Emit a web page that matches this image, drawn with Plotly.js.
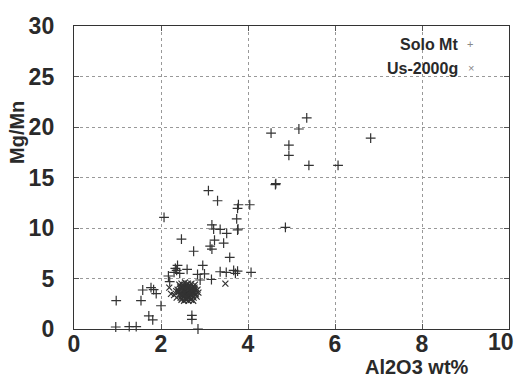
<!DOCTYPE html>
<html><head><meta charset="utf-8">
<script src="https://cdn.plot.ly/plotly-3.0.1.min.js"></script>
<style>html,body{margin:0;padding:0;background:#fff;}#chart{width:518px;height:379px;}</style>
</head><body><div id="chart"></div>
<script>
// Solo Mt (+)
const soloX = [5.35,5.17,4.53,4.94,4.94,6.82,5.40,6.07,4.63,4.64,3.09,3.30,3.78,4.04,3.76,3.74,4.86,2.07,3.17,3.21,3.36,3.76,3.77,3.51,2.47,3.23,3.44,3.13,3.17,2.75,3.58,2.96,2.38,2.33,2.60,2.30,2.43,2.36,3.00,2.84,3.36,3.50,3.67,3.71,3.76,4.07,2.90,3.16,2.17,2.20,1.58,1.77,1.83,1.89,0.97,1.54,2.00,1.72,1.81,0.96,1.27,1.43,2.71,2.71,2.85];
const soloY = [20.9,19.8,19.4,18.2,17.2,18.9,16.2,16.2,14.3,14.4,13.7,12.7,12.3,12.3,11.95,10.9,10.07,11.06,10.3,9.9,9.87,9.8,9.9,9.47,8.9,8.8,8.5,8.2,7.9,7.7,7.1,6.3,6.3,6.0,5.9,5.6,5.5,5.8,5.45,5.4,5.67,5.6,5.8,5.5,5.74,5.6,4.85,4.9,5.25,4.7,3.86,4.1,3.9,3.5,2.8,2.8,2.3,1.3,0.9,0.2,0.23,0.23,1.35,0.95,0.0];
// Us-2000g (x)
const usX = [3.48,2.23,2.36,2.19,2.42,2.47,2.51,2.55,2.58,2.62,2.66,2.70,2.74,2.78,2.44,2.49,2.53,2.57,2.61,2.65,2.69,2.73,2.77,2.81,2.40,2.46,2.50,2.54,2.59,2.63,2.67,2.71,2.76,2.80,2.84,2.43,2.48,2.52,2.56,2.60,2.64,2.68,2.72,2.79,2.38,2.45,2.51,2.55,2.62,2.66,2.70,2.75,2.82,2.47,2.53,2.58,2.63,2.69,2.74,2.52,2.57,2.61,2.67,2.72,2.41,2.35,2.30,2.86,2.50,2.64,2.59,2.68,2.55,2.62,2.71,2.44,2.77,2.49];
const usY = [4.5,3.47,3.1,4.1,4.4,4.5,4.3,4.6,4.4,4.5,4.3,4.5,4.2,4.4,4.0,4.1,3.9,4.2,4.0,4.1,3.9,4.0,4.1,3.8,3.7,3.6,3.8,3.7,3.6,3.8,3.7,3.6,3.7,3.5,3.9,3.4,3.3,3.5,3.4,3.3,3.5,3.4,3.3,3.4,3.9,3.1,3.2,3.0,3.1,3.2,3.0,3.1,3.2,2.9,2.8,2.9,2.8,2.9,2.8,3.95,3.85,4.25,3.75,3.55,3.65,3.75,3.35,3.6,4.15,3.55,3.15,4.05,3.25,3.9,3.3,4.2,3.9,3.45];
const xTicks = [0,2,4,6,8,10];
const yTicks = [0,5,10,15,20,25,30];

const FONT = "'Liberation Sans', Arial, sans-serif";
const TICKFONT = {family:FONT, size:23, color:'#2a2a2a', weight:'bold'};
const traces = [
  {x: soloX, y: soloY, type:'scatter', mode:'markers', name:'Solo Mt', cliponaxis:false,
   marker:{symbol:'cross-thin', size:7, line:{width:1.2, color:'#333'}, color:'#333'}},
  {x: usX, y: usY, type:'scatter', mode:'markers', name:'Us-2000g',
   marker:{symbol:'x-thin', size:6, line:{width:1.2, color:'#333'}, color:'#333'}}
];
const axisCommon = {
  showgrid:true, gridcolor:'#999', griddash:'dot', gridwidth:1,
  zeroline:false, showline:true, linecolor:'#333', linewidth:1.2, mirror:'ticks',
  ticks:'inside', ticklen:5, tickcolor:'#555',
  tickfont:TICKFONT
};
// last x tick label sits slightly left of its tick (as in the reference), drawn as an annotation
const lastX = xTicks[xTicks.length-1];
const xTickText = xTicks.map((v,i) => i === xTicks.length-1 ? '' : String(v));
const layout = {
  width:518, height:379,
  margin:{l:74, r:9, t:26, b:50},
  paper_bgcolor:'#fff', plot_bgcolor:'#fff',
  showlegend:false,
  xaxis: Object.assign({}, axisCommon, {range:[0,10], tickvals:xTicks, ticktext:xTickText, ticklabelstandoff:-6}),
  yaxis: Object.assign({}, axisCommon, {range:[0,30], tickvals:yTicks, ticktext:yTicks.map(String), ticklabelstandoff:14}),
  annotations:[
    {text:String(lastX), xref:'paper', yref:'paper', x:1.0138, y:-0.043, xanchor:'right', yanchor:'middle', showarrow:false,
     font:TICKFONT, borderpad:0},
    {text:'<b>Al2O3 wt%</b>', xref:'paper', yref:'paper', x:0.912, y:-0.124, xanchor:'right', yanchor:'middle', showarrow:false,
     font:{family:FONT, size:20, color:'#2a2a2a'}},
    {text:'<b>Mg/Mn</b>', xref:'paper', yref:'paper', x:-0.131, y:0.647, xanchor:'center', yanchor:'middle', textangle:-90, showarrow:false,
     font:{family:FONT, size:20, color:'#2a2a2a'}},
    {text:'<b>Solo Mt</b>', xref:'paper', yref:'paper', x:0.888, y:0.94, xanchor:'right', yanchor:'middle', showarrow:false,
     font:{family:FONT, size:16, color:'#2a2a2a'}},
    {text:'+', xref:'paper', yref:'paper', x:0.911, y:0.94, xanchor:'center', yanchor:'middle', showarrow:false,
     font:{family:FONT, size:11, color:'#888'}},
    {text:'<b>Us-2000g</b>', xref:'paper', yref:'paper', x:0.888, y:0.86, xanchor:'right', yanchor:'middle', showarrow:false,
     font:{family:FONT, size:16, color:'#2a2a2a'}},
    {text:'×', xref:'paper', yref:'paper', x:0.913, y:0.86, xanchor:'center', yanchor:'middle', showarrow:false,
     font:{family:FONT, size:11, color:'#888'}}
  ]
};
Plotly.newPlot('chart', traces, layout, {displayModeBar:false, staticPlot:true});
</script></body></html>
